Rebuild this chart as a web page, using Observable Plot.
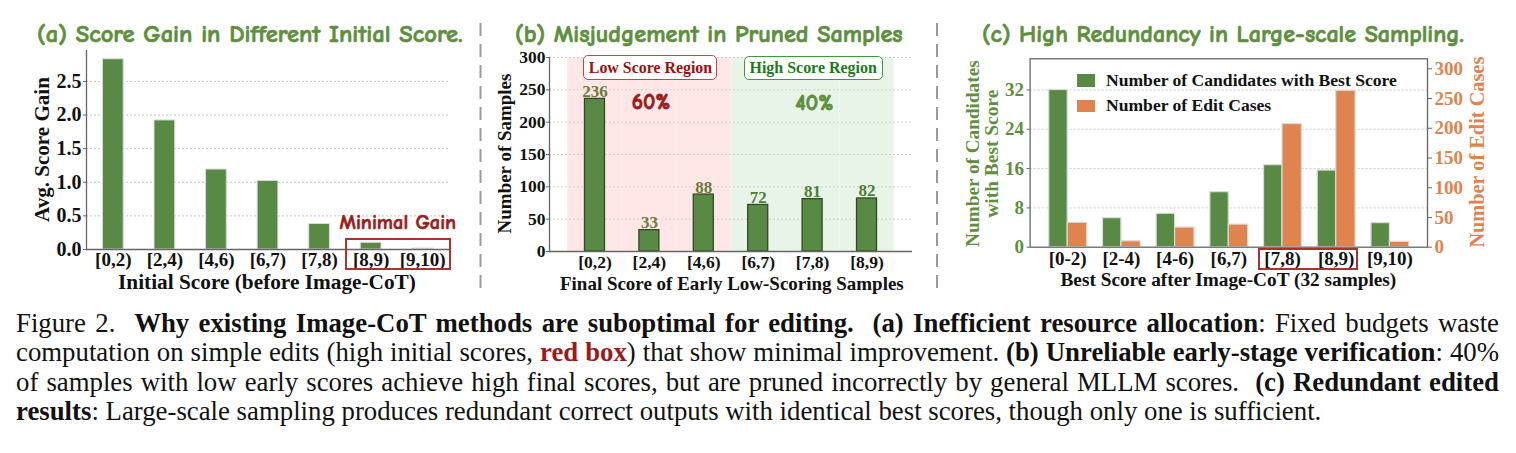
<!DOCTYPE html>
<html><head><meta charset="utf-8">
<script src="https://cdn.jsdelivr.net/npm/d3@7"></script>
<script src="https://cdn.jsdelivr.net/npm/@observablehq/plot@0.6"></script>
<style>
html,body{margin:0;padding:0;background:#fff;}
#root{position:relative;width:1516px;height:453px;overflow:hidden;background:#fff;}
.abs{position:absolute;}
</style></head>
<body><div id="root"></div>
<script>
// ---------- data ----------
const catsA = ["[0,2)","[2,4)","[4,6)","[6,7)","[7,8)","[8,9)","[9,10)"];
const gainA = [2.83, 1.92, 1.19, 1.02, 0.38, 0.10, 0.015];
const yTicksA = [0, 0.5, 1.0, 1.5, 2.0, 2.5];

const catsB = ["[0,2)","[2,4)","[4,6)","[6,7)","[7,8)","[8,9)"];
const countsB = [236, 33, 88, 72, 81, 82];
const regionB = ["low","low","low","high","high","high"];
const yTicksB = [0, 50, 100, 150, 200, 250, 300];

const catsC = ["[0-2)","[2-4)","[4-6)","[6,7)","[7,8)","[8,9)","[9,10)"];
const candidatesC = [32, 5.9, 6.8, 11.2, 16.7, 15.6, 4.9];
const editCasesC = [41, 10, 33, 38, 207, 263, 9];
const yTicksCLeft = [0, 8, 16, 24, 32];
const yTicksCRight = [0, 50, 100, 150, 200, 250, 300];

const titles = ["(a) Score Gain in Different Initial Score.", "(b) Misjudgement in Pruned Samples", "(c) High Redundancy in Large-scale Sampling."];
const capHTML = [
 'Figure 2.&nbsp; <b>Why existing Image-CoT methods are suboptimal for editing.</b>&nbsp; <b>(a) Inefficient resource allocation</b>: Fixed budgets waste',
 'computation on simple edits (high initial scores, <b style="color:#9b1b1b">red box</b>) that show minimal improvement. <b>(b) Unreliable early-stage verification</b>: 40%',
 'of samples with low early scores achieve high final scores, but are pruned incorrectly by general MLLM scores.&nbsp; <b>(c) Redundant edited</b>',
 '<b>results</b>: Large-scale sampling produces redundant correct outputs with identical best scores, though only one is sufficient.'
];

// ---------- style ----------
const SERIF = '"Liberation Serif","Times New Roman",Times,serif';
const COMIC = '"Comic Sans MS","Comic Neue",Lato,"Open Sans",sans-serif';
const GREEN_T = "#5e8f3e", GREEN_B = "#588a45", ORANGE = "#e0844f", DARKRED = "#9b1b1b";
const root = document.getElementById("root");

function label(html, x, cy, o={}){
  const d = document.createElement("div");
  d.innerHTML = html;
  const size = o.size || 18;
  Object.assign(d.style,{position:"absolute",left:"0px",top:"0px",whiteSpace:"nowrap",fontFamily:o.font||SERIF,
    fontWeight:o.weight||"bold",fontSize:size+"px",color:o.color||"#111",lineHeight:"1"});
  if (o.stroke) d.style.webkitTextStroke = o.stroke + "px " + (o.color||"#111");
  root.appendChild(d);
  if (o.width){ const w = d.getBoundingClientRect().width; d.style.fontSize = (size*o.width/w)+"px"; }
  const w = d.offsetWidth, h = d.offsetHeight;
  const left = o.anchor==="start" ? x : x - w/2;
  d.style.left = left+"px"; d.style.top = (cy - h/2)+"px";
  if (o.rotate){ d.style.transformOrigin = "50% 50%"; d.style.transform = `rotate(${o.rotate}deg)`; }
  return d;
}
function box(x1,y1,x2,y2,o={}){
  const d = document.createElement("div");
  Object.assign(d.style,{position:"absolute",left:x1+"px",top:y1+"px",width:(x2-x1)+"px",height:(y2-y1)+"px",
    boxSizing:"border-box",border:`${o.w||0}px solid ${o.color||"#a52a2a"}`,borderRadius:(o.r||0)+"px",background:o.fill||"transparent"});
  root.appendChild(d); return d;
}
function mount(svg, left){ const w=document.createElement("div"); w.className="abs"; w.style.left=left+"px"; w.style.top="0px"; w.appendChild(svg); root.appendChild(w); }
const baseStyle = {fontFamily:SERIF, fontWeight:"bold", fontSize:"18px", color:"#111", background:"transparent", overflow:"visible"};

// ---------- panel (a) ----------
const dataA = catsA.map((c,i)=>({cat:c, v:gainA[i]}));
const plotA = Plot.plot({
  width:480, height:300, marginLeft:86, marginRight:31, marginTop:50, marginBottom:51,
  style: baseStyle,
  x:{type:"band", domain:catsA, paddingInner:0, paddingOuter:0.02, round:false},
  y:{domain:[0,2.96]},
  marks:[
    Plot.gridY(yTicksA.slice(1), {stroke:"#c4c4c4", strokeOpacity:1, strokeDasharray:"2,2"}),
    Plot.barY(dataA, {x:"cat", y:"v", fill:GREEN_B, stroke:"#dcdcdc", strokeWidth:1, insetLeft:15.4, insetRight:15.4}),
    Plot.ruleY([0], {stroke:"#666", strokeWidth:1.3}),
    Plot.frame({anchor:"left", stroke:"#666", strokeWidth:1.3}),
    Plot.axisY(yTicksA, {tickFormat:d3.format(".1f"), tickSize:3, tickPadding:2, stroke:"#666", fontSize:20, label:null}),
    Plot.axisX({tickSize:0, tickPadding:3, fontSize:19, label:null})
  ]
});
mount(plotA, 0);

// ---------- panel (b) ----------
const dataB = catsB.map((c,i)=>({cat:c, v:countsB[i], region:regionB[i]}));
const plotB = Plot.plot({
  width:456, height:300, marginLeft:69, marginRight:24, marginTop:57, marginBottom:49,
  style: baseStyle,
  x:{type:"band", domain:catsB, paddingInner:0, paddingOuter:0.336, round:false},
  y:{domain:[0,300]},
  marks:[
    Plot.barY(dataB, {x:"cat", y1:0, y2:300, fill:d=>d.region==="low"?"#ffe7e7":"#e9f4e8"}),
    Plot.gridY(yTicksB.slice(1), {stroke:"#cfcfcf", strokeOpacity:1, strokeDasharray:"2,2"}),
    Plot.barY(dataB, {x:"cat", y:"v", fill:GREEN_B, stroke:"#2f4a24", strokeWidth:1.3, insetLeft:17.2, insetRight:17.2}),
    Plot.text(dataB, {x:"cat", y:"v", text:d=>String(d.v), lineAnchor:"bottom", dy:-2, fontSize:17,
      fill:d=>d.region==="low"?"#6b7a3b":"#4d7f37"}),
    Plot.ruleY([0], {stroke:"#666", strokeWidth:1.3}),
    Plot.frame({anchor:"left", stroke:"#666", strokeWidth:1.3}),
    Plot.axisY(yTicksB, {tickSize:3, tickPadding:1, stroke:"#666", fontSize:17.5, label:null}),
    Plot.axisX({tickSize:0, tickPadding:4.5, fontSize:17.5, label:null})
  ]
});
mount(plotB, 480);

// ---------- panel (c) ----------
const dataC = catsC.map((c,i)=>({cat:c, cand:candidatesC[i], edit:editCasesC[i]}));
const xC = {type:"band", domain:catsC, paddingInner:0, paddingOuter:0.2, round:false};
const dimC = {width:576, height:300, marginLeft:89.6, marginRight:89, marginTop:58.3, marginBottom:53.3};
const plotC1 = Plot.plot({
  ...dimC, style: baseStyle,
  x: xC, y:{domain:[0,38.35]},
  marks:[
    Plot.gridY(yTicksCLeft.slice(1), {stroke:"#c8c8c8", strokeOpacity:1, strokeDasharray:"2,2"}),
    Plot.barY(dataC, {x:"cat", y:"cand", fill:GREEN_B, stroke:"#dadada", strokeWidth:1.2, insetLeft:8.4, insetRight:26.85}),
    Plot.axisY(yTicksCLeft, {tickSize:3, tickPadding:3, stroke:"#666", fill:GREEN_T, fontSize:19, label:null}),
    Plot.axisX({tickSize:0, tickPadding:4.3, fontSize:19, label:null})
  ]
});
const plotC2 = Plot.plot({
  ...dimC, style: baseStyle,
  x: {...xC, axis:null}, y:{domain:[0,316.8]},
  marks:[
    Plot.barY(dataC, {x:"cat", y:"edit", fill:ORANGE, stroke:"#dadada", strokeWidth:1.2, insetLeft:26.85, insetRight:7.5}),
    Plot.frame({stroke:"#666", strokeWidth:1.3}),
    Plot.axisY(yTicksCRight, {anchor:"right", tickSize:4, tickPadding:3, stroke:"#666", fill:ORANGE, fontSize:19, label:null})
  ]
});
mount(plotC1, 940);
mount(plotC2, 940);

// ---------- separators ----------
const sep = d3.create("svg").attr("width",1516).attr("height",453).style("position","absolute").style("left","0px").style("top","0px");
[480.5, 937].forEach(x=>sep.append("line").attr("x1",x).attr("x2",x).attr("y1",23).attr("y2",292)
  .attr("stroke","#9a9a9a").attr("stroke-width",2).attr("stroke-dasharray","13,8"));
root.appendChild(sep.node());

// ---------- titles ----------
label(titles[0], 250, 34, {font:COMIC, color:GREEN_T, width:426, size:20, stroke:0.7});
label(titles[1], 709, 34, {font:COMIC, color:GREEN_T, width:388, size:20, stroke:0.7});
label(titles[2], 1223, 34, {font:COMIC, color:GREEN_T, width:482, size:20, stroke:0.7});

// ---------- axis titles ----------
label("Initial Score (before Image-CoT)", 267, 282, {width:298});
label("Avg. Score Gain", 42.7, 149, {width:145, rotate:-90});
label("Final Score of Early Low-Scoring Samples", 732, 283, {width:344});
label("Number of Samples", 505, 153, {width:160, rotate:-90});
label("Best Score after Image-CoT (32 samples)", 1228.5, 279, {width:336});
label("Number of Candidates", 972.9, 153, {width:186.7, rotate:-90, color:GREEN_T});
label("with Best Score", 991.6, 153, {width:128, rotate:-90, color:GREEN_T});
label("Number of Edit Cases", 1477, 152, {width:191, rotate:-90, color:ORANGE});

// ---------- annotations (a) ----------
const sxA = plotA.scale("x");
const a1 = sxA.apply("[8,9)"), a2 = sxA.apply("[9,10)") + sxA.bandwidth;
box(a1+0.5, 238, a2+3, 269.5, {color:"#b03030", w:2});
label("Minimal Gain", 398, 223, {font:COMIC, color:DARKRED, width:116.7, size:18, stroke:0.6});

// ---------- annotations (b) ----------
box(583.3, 55, 717.3, 80, {color:"#c84444", w:1.5, r:5, fill:"#fff"});
label("Low Score Region", 650.3, 67.5, {color:"#9b1010", width:123.4, size:17});
box(744, 56, 882.7, 80, {color:"#3f9a3f", w:1.5, r:5, fill:"#fff"});
label("High Score Region", 813, 67.5, {color:"#1e7a1e", width:127.4, size:17});
label("60%", 650.8, 103.3, {font:COMIC, color:DARKRED, width:38.3, size:24, stroke:0.8});
label("40%", 814.2, 103.3, {font:COMIC, color:GREEN_T, width:38.3, size:24, stroke:0.8});

// ---------- annotations (c) ----------
const sxC = plotC1.scale("x");
const c1 = 940 + sxC.apply("[7,8)"), c2 = 940 + sxC.apply("[8,9)") + sxC.bandwidth;
box(c1+3, 247.5, c2-5, 270, {color:"#b03030", w:2});
box(1077.4, 74, 1095.3, 86.7, {fill:GREEN_B});
box(1077.4, 99.5, 1095.3, 112, {fill:ORANGE});
const lg1 = label("Number of Candidates with Best Score", 1106, 81, {anchor:"start", width:291, size:16});
const lgSize = parseFloat(lg1.style.fontSize);
label("Number of Edit Cases", 1106, 106, {anchor:"start", size:lgSize});

// ---------- caption ----------
const probe = document.createElement("span");
probe.innerHTML = capHTML[3];
Object.assign(probe.style,{fontFamily:SERIF,fontSize:"20px",whiteSpace:"nowrap",position:"absolute",visibility:"hidden"});
root.appendChild(probe);
const fs = 20*1306/probe.getBoundingClientRect().width;
root.removeChild(probe);
const lh = 29.5;
capHTML.forEach((html,i)=>{
  const d = document.createElement("div");
  d.innerHTML = html;
  const baseline = 332.5 + i*lh;
  const top = baseline - ((lh - 1.107*fs)/2 + 0.891*fs);
  Object.assign(d.style,{position:"absolute",left:"16px",top:top+"px",width:"1483px",fontFamily:SERIF,fontSize:fs+"px",
    lineHeight:lh+"px",color:"#111",textAlign:i<3?"justify":"left",textAlignLast:i<3?"justify":"auto"});
  root.appendChild(d);
});
</script>
</body></html>
